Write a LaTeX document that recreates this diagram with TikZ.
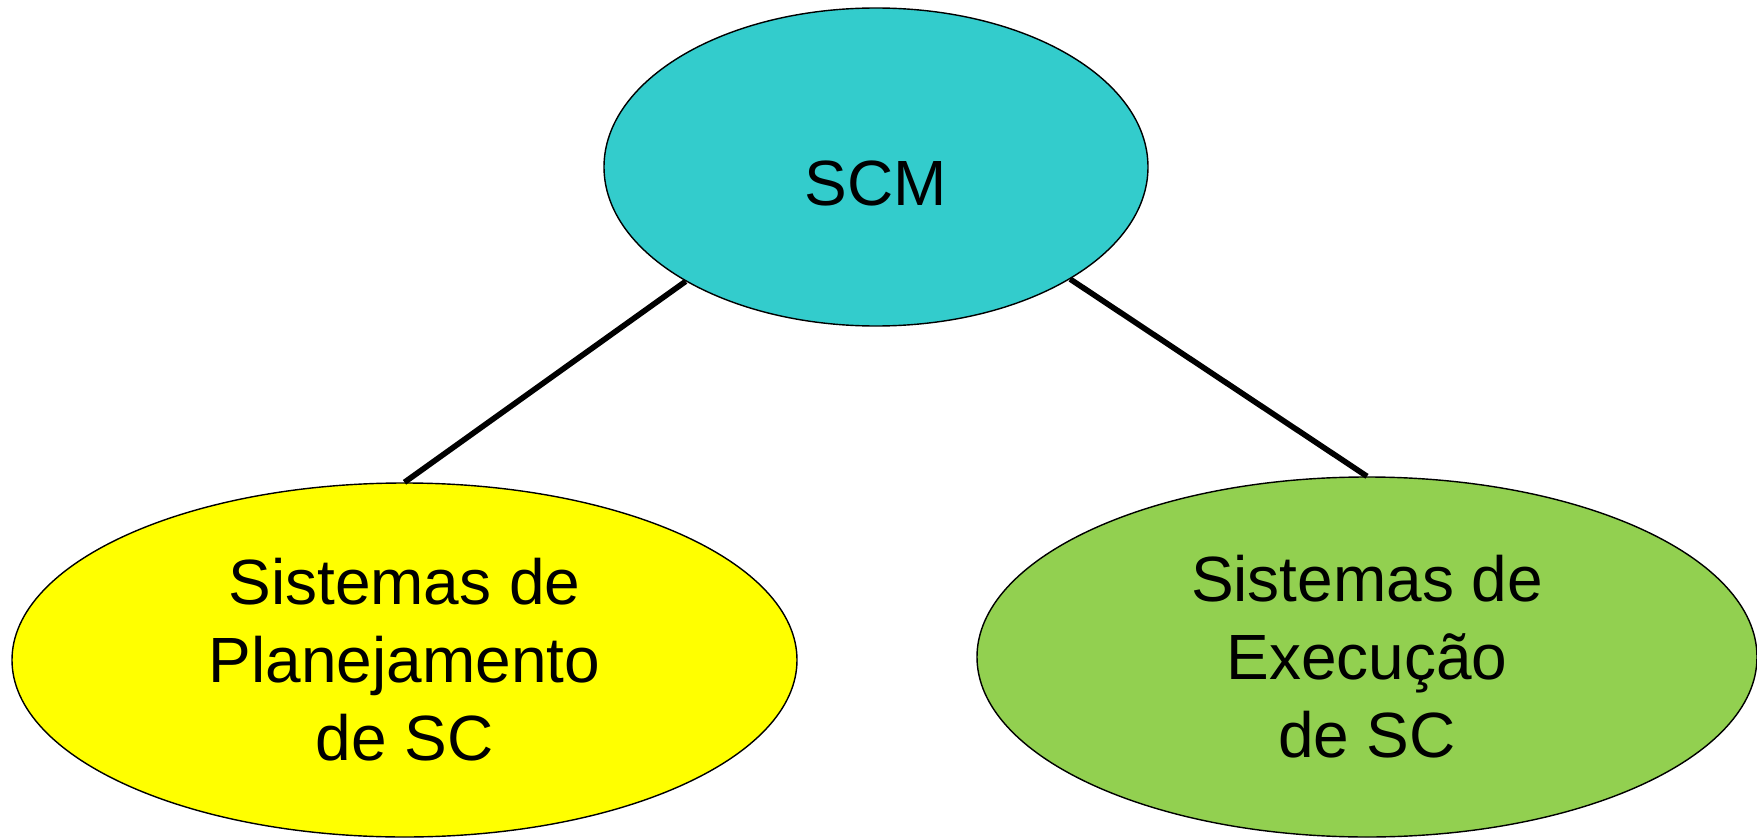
\documentclass[tikz,border=0pt]{standalone}
\usepackage{fontspec}
\setmainfont{Liberation Sans}
\usetikzlibrary{shapes.geometric}
\definecolor{turquesa}{RGB}{51,204,204}
\definecolor{amarelo}{RGB}{255,255,0}
\definecolor{verde}{RGB}{146,208,80}
\tikzstyle{sistema} = [draw=black, thin, ellipse, inner sep=0pt, align=center, font=\fontsize{18.2}{22.2}\selectfont]
\tikzstyle{ligacao} = [draw=black, line width=1.6pt]

\begin{document}
\begin{tikzpicture}
	\useasboundingbox (0,0) rectangle (17.57,-8.40);
	\node[sistema, fill=turquesa, minimum width=5.44cm, minimum height=3.18cm, text height=0.78cm](scm) at (8.76,-1.67) {SCM};
	\node[sistema, fill=amarelo, minimum width=7.85cm, minimum height=3.54cm](planejamento) at (4.045,-6.60) {Sistemas de\\Planejamento\\de SC};
	\node[sistema, fill=verde, minimum width=7.80cm, minimum height=3.60cm](execucao) at (13.67,-6.57) {Sistemas de\\Execução\\de SC};
	\draw[ligacao] (scm.211) -- (planejamento.north);
	\draw[ligacao] (scm.330) -- (execucao.north);
\end{tikzpicture}
\end{document}
